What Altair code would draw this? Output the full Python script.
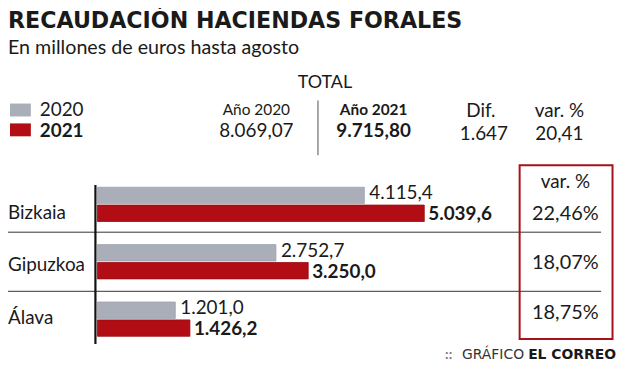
import altair as alt
import pandas as pd

# ---------------- data ----------------
regions = ["Bizkaia", "Gipuzkoa", "Álava"]
v2020 = [4115.4, 2752.7, 1201.0]
v2021 = [5039.6, 3250.0, 1426.2]
var_pct = ["22,46%", "18,07%", "18,75%"]
years = ["2020", "2021"]
total_heads = ["Año 2020", "Año 2021", "Dif.", "var. %"]
total_values = ["8.069,07", "9.715,80", "1.647", "20,41"]
title_text = "RECAUDACIÓN HACIENDAS FORALES"
subtitle_text = "En millones de euros hasta agosto"
total_title = "TOTAL"
var_head = "var. %"
source_a = "GRÁFICO"
source_b = "EL CORREO"

GRAY = "#a9aeb8"
RED = "#b20d15"
INK = "#1a1a1a"
BODY = "Lato"
TITLEF = "DejaVu Sans"


def es(v):
    s = f"{v:,.1f}"
    return s.replace(",", "X").replace(".", ",").replace("X", ".")


rows = []
for r, a, b in zip(regions, v2020, v2021):
    rows.append({"region": r, "year": years[0], "value": a, "label": es(a)})
    rows.append({"region": r, "year": years[1], "value": b, "label": es(b)})
bars_df = pd.DataFrame(rows)
var_df = pd.DataFrame({"region": regions, "var": var_pct})
one = pd.DataFrame({"k": [0]})

# ---------------- scales ----------------
X = alt.Scale(domain=[0, 7000], range=[90, 547])
YB = alt.Scale(domain=regions, range=[167.6, 340.9], paddingInner=0, paddingOuter=0)
YO = alt.Scale(domain=years, paddingInner=0.083, paddingOuter=0.646)
COL = alt.Scale(domain=years, range=[GRAY, RED])
YLAB = alt.Scale(type="point", domain=regions, range=[205.5, 310.5], padding=0)
YVAR = alt.Scale(type="point", domain=regions, range=[206, 306], padding=0)


def txt(s, x, y, size, bold=False, align="left", color=INK, font=BODY):
    return alt.Chart(one).mark_text(
        text=s, align=align, baseline="alphabetic", fontSize=size,
        fontWeight="bold" if bold else "normal", font=font, color=color,
    ).encode(x=alt.value(x), y=alt.value(y))


def rule(x, y, x2=None, y2=None, color=INK, width=1):
    enc = {"x": alt.value(x), "y": alt.value(y)}
    if x2 is not None:
        enc["x2"] = alt.value(x2)
    if y2 is not None:
        enc["y2"] = alt.value(y2)
    return alt.Chart(one).mark_rule(color=color, strokeWidth=width).encode(**enc)


def box(x, x2, y, y2, fill=None, stroke=None, sw=2):
    kw = {}
    if fill is not None:
        kw["fill"] = fill
    else:
        kw["fillOpacity"] = 0
    if stroke is not None:
        kw["stroke"] = stroke
        kw["strokeWidth"] = sw
    return alt.Chart(one).mark_rect(**kw).encode(
        x=alt.value(x), x2=alt.value(x2), y=alt.value(y), y2=alt.value(y2))


base = alt.Chart(bars_df)

bars = base.mark_bar(strokeWidth=0.8).encode(
    x=alt.X("value:Q", scale=X, axis=None),
    y=alt.Y("region:N", scale=YB, axis=None),
    yOffset=alt.YOffset("year:N", scale=YO),
    color=alt.Color("year:N", scale=COL, legend=None),
    stroke=alt.Stroke("year:N", scale=alt.Scale(domain=years, range=["#9ea3ad", "#950b11"]), legend=None),
)

lab20 = base.transform_filter(alt.datum.year == years[0]).mark_text(
    align="left", baseline="middle", dx=5, dy=-2, fontSize=19, font=BODY, color=INK
).encode(
    x=alt.X("value:Q", scale=X, axis=None),
    y=alt.Y("region:N", scale=YB, axis=None),
    yOffset=alt.YOffset("year:N", scale=YO),
    text="label:N",
)

lab21 = base.transform_filter(alt.datum.year == years[1]).mark_text(
    align="left", baseline="middle", dx=4, dy=1, fontSize=19, font=BODY,
    fontWeight="bold", color=INK
).encode(
    x=alt.X("value:Q", scale=X, axis=None),
    y=alt.Y("region:N", scale=YB, axis=None),
    yOffset=alt.YOffset("year:N", scale=YO),
    text="label:N",
)

cats = alt.Chart(var_df).mark_text(
    align="left", baseline="middle", fontSize=19, font=BODY, color=INK
).encode(
    x=alt.value(0),
    y=alt.Y("region:N", scale=YLAB, axis=None),
    text="region:N",
)

vars_ = alt.Chart(var_df).mark_text(
    align="center", baseline="middle", fontSize=20, font=BODY, color=INK
).encode(
    x=alt.value(561),
    y=alt.Y("region:N", scale=YVAR, axis=None),
    text="var:N",
)

layers = [
    # titles
    txt(title_text, 0, 19, 22.3, bold=True, font=TITLEF),
    txt(subtitle_text, 0, 45, 19.8),
    txt(total_title, 319, 79, 18, align="center"),
    # legend
    box(2, 23, 95, 108, fill=GRAY),
    box(2, 23, 115, 128, fill=RED),
    txt(years[0], 32, 108, 19),
    txt(years[1], 32, 129, 19, bold=True),
    # totals
    txt(total_heads[0], 250, 107, 15.5, align="center"),
    txt(total_values[0], 250, 129, 19, align="center"),
    rule(312, 92, y2=147, color="#8a8a8a", width=1.5),
    txt(total_heads[1], 368, 107, 15.5, bold=True, align="center"),
    txt(total_values[1], 368, 129, 19, bold=True, align="center"),
    txt(total_heads[2], 476, 109, 19, align="center"),
    txt(total_values[2], 479, 132, 19, align="center"),
    txt(total_heads[3], 555, 109, 19, align="center"),
    txt(total_values[3], 555, 132, 19, align="center"),
    # grid
    rule(0, 224.5, x2=597, color="#333333", width=1),
    rule(0, 284, x2=597, color="#333333", width=1),
    bars,
    rule(88, 177, y2=337, color="#111111", width=2.2),
    lab20,
    lab21,
    cats,
    box(515, 608.5, 157, 332, stroke="#a6121a", sw=2),
    txt(var_head, 561, 180, 19, align="center"),
    vars_,
    # footer
    txt("::", 440, 352, 14, bold=True, color="#7a7a7a"),
    txt(source_a, 457, 352, 14, color="#333333", font="DejaVu Sans"),
    txt(source_b, 612, 352, 14, bold=True, align="right", font="DejaVu Sans"),
]

chart = alt.layer(*layers).resolve_scale(y="independent").properties(
    width=612, height=355, padding=0,
    autosize=alt.AutoSizeParams(type="none"),
    background="white",
).configure_view(stroke="transparent")

chart.save("out.html", embed_options={"renderer": "svg", "actions": False})
